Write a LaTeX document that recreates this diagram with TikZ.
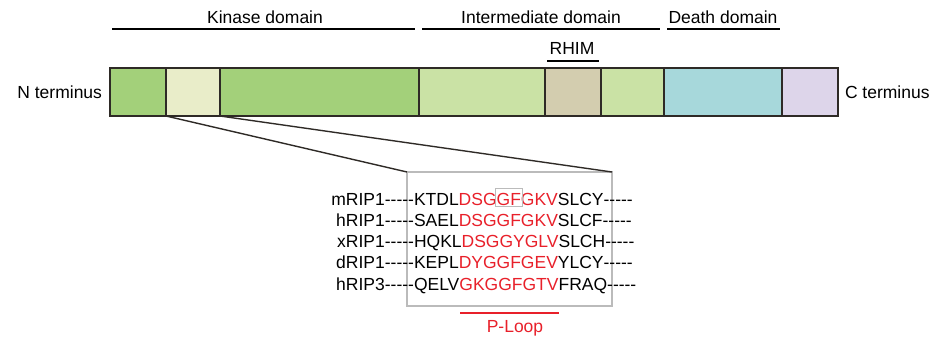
\documentclass[tikz,border=0pt]{standalone}
\usepackage{fontspec}
\setmainfont{Liberation Sans}
\definecolor{kgreen}{HTML}{A3D07A}
\definecolor{kpale}{HTML}{E9EDC9}
\definecolor{igreen}{HTML}{CAE2A5}
\definecolor{rtan}{HTML}{D3CDAF}
\definecolor{dcyan}{HTML}{A7D8DB}
\definecolor{clav}{HTML}{DDD5EA}
\definecolor{seqred}{HTML}{E8202A}
\definecolor{boxgray}{HTML}{BBBBBB}
\definecolor{edge}{HTML}{2E2A26}
\newcommand\hy{\mbox{-}}
\newcommand\fivedash{\hy\hy\hy\hy\hy}
\tikzset{
  lbl/.style={font=\fontsize{17.5}{20}\selectfont, inner sep=0, outer sep=0},
  seg/.style={draw=edge, line width=1.3pt, minimum height=48, inner sep=0, outer sep=0},
  seq/.style={lbl, anchor=base west},
  dom/.style={line width=1.3pt, black},
}
\begin{document}
\begin{tikzpicture}[x=1pt,y=-1pt]
\path[use as bounding box] (0,0) rectangle (938,341);
% bar segments
\node[seg, fill=kgreen, minimum width=56] (s1) at (138,92) {};
\node[seg, fill=kpale, minimum width=54] (s2) at (193,92) {};
\node[seg, fill=kgreen, minimum width=199] (s3) at (319.5,92) {};
\node[seg, fill=igreen, minimum width=126] (s4) at (482,92) {};
\node[seg, fill=rtan, minimum width=56] (s5) at (573,92) {};
\node[seg, fill=igreen, minimum width=63] (s6) at (632.5,92) {};
\node[seg, fill=dcyan, minimum width=118] (s7) at (723,92) {};
\node[seg, fill=clav, minimum width=56] (s8) at (810,92) {};
\node[lbl, anchor=base east] (nt) at (102,98) {N terminus};
\node[lbl, anchor=base west] (ct) at (845,98) {C terminus};
% domain labels
\node[lbl, anchor=base] (kin) at (265,23) {Kinase domain};
\node[lbl, anchor=base] (int) at (541,23) {Intermediate domain};
\node[lbl, anchor=base] (dea) at (723,23) {Death domain};
\node[lbl, anchor=base] (rhim) at (572,54) {RHIM};
\draw[dom] (112,29) -- (415,29);
\draw[dom] (422,29) -- (660,29);
\draw[dom] (667,29) -- (780,29);
\draw[dom] (547,61) -- (599,61);
% zoom box
\node[draw=boxgray, line width=1.3pt, minimum width=205, minimum height=134, inner sep=0, outer sep=0] (box) at (509.5,239) {};
\draw[edge, line width=1.4pt] (s2.south west) -- (box.north west);
\draw[edge, line width=1.4pt] (s2.south east) -- (box.north east);
% rows
\node[lbl, anchor=base east] (l1) at (414,205) {mRIP1\fivedash};
\node[seq] (a1) at (l1.base east) {KTDL};
\node[seq, text=seqred] (b1) at (a1.base east) {DSG};
\node[seq, text=seqred] (g1) at (b1.base east) {GF};
\node[seq, text=seqred] (c1) at (g1.base east) {GKV};
\node[seq] (d1) at (c1.base east) {SLCY\fivedash};
\draw[boxgray, line width=1.2pt] ([xshift=-1,yshift=-1.5]g1.south west) rectangle ([xshift=1.5,yshift=4.5]g1.north east);

\node[lbl, anchor=base east] (l2) at (414,226) {hRIP1\fivedash};
\node[seq] (a2) at (l2.base east) {SAEL};
\node[seq, text=seqred] (b2) at (a2.base east) {DSGGFGKV};
\node[seq] (d2) at (b2.base east) {SLCF\fivedash};

\node[lbl, anchor=base east] (l3) at (414,247) {xRIP1\fivedash};
\node[seq] (a3) at (l3.base east) {HQKL};
\node[seq, text=seqred] (b3) at (a3.base east) {DSGGYGLV};
\node[seq] (d3) at (b3.base east) {SLCH\fivedash};

\node[lbl, anchor=base east] (l4) at (414,268) {dRIP1\fivedash};
\node[seq] (a4) at (l4.base east) {KEPL};
\node[seq, text=seqred] (b4) at (a4.base east) {DYGGFGEV};
\node[seq] (d4) at (b4.base east) {YLCY\fivedash};

\node[lbl, anchor=base east] (l5) at (414,290) {hRIP3\fivedash};
\node[seq] (a5) at (l5.base east) {QELV};
\node[seq, text=seqred] (b5) at (a5.base east) {GKGGFGTV};
\node[seq] (d5) at (b5.base east) {FRAQ\fivedash};

% P-loop
\coordinate (pl1) at (460,313);
\coordinate (pl2) at (559,313);
\draw[seqred, line width=1.5pt] (pl1) -- (pl2);
\node[lbl, text=seqred, anchor=base] (ploop) at (515,332) {P-Loop};
\end{tikzpicture}
\end{document}
